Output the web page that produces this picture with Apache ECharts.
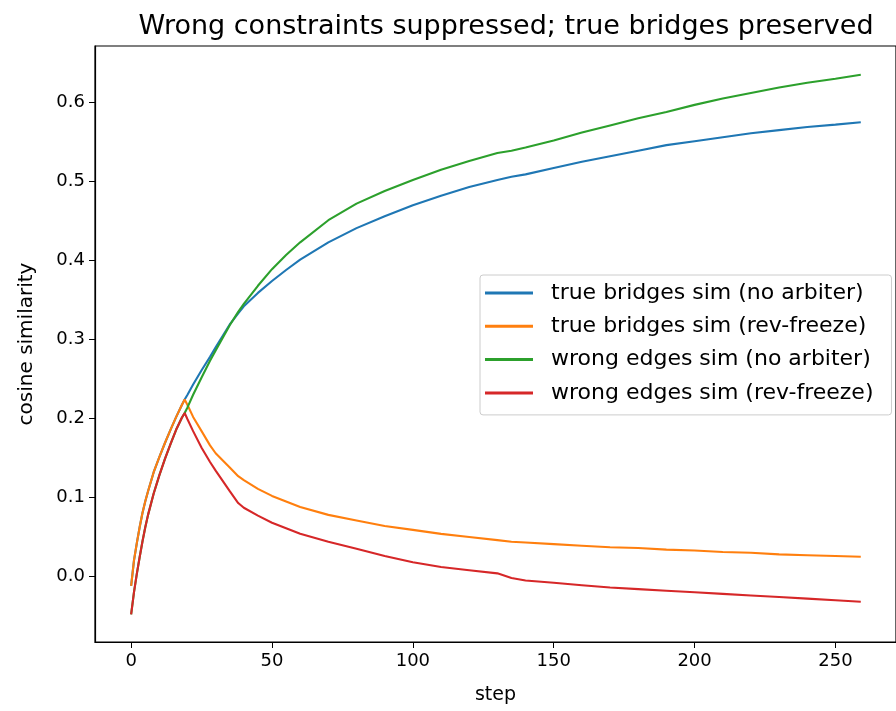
<!DOCTYPE html>
<html>
<head>
<meta charset="utf-8">
<script src="https://cdn.jsdelivr.net/npm/echarts@6/dist/echarts.min.js"></script>
<style>
html,body{margin:0;padding:0;background:#fff;}
#chart{width:896px;height:711px;}
</style>
</head>
<body>
<div id="chart"></div>
<script>
// ---- data ----
const steps = [0,1,2,3,4,5,6,8,10,12,14,16,18,19,20,22,25,28,30,35,38,40,45,50,55,60,70,80,90,100,110,120,130,135,140,150,160,170,180,190,200,210,220,230,240,250,259];

const trueNoArbiter = [-0.012,0.020,0.042,0.062,0.080,0.095,0.108,0.132,0.151,0.169,0.186,0.202,0.217,0.224,0.230,0.243,0.261,0.278,0.290,0.319,0.333,0.342,0.359,0.374,0.388,0.401,0.423,0.441,0.456,0.470,0.482,0.493,0.502,0.506,0.509,0.517,0.525,0.532,0.539,0.546,0.551,0.556,0.561,0.565,0.569,0.572,0.575];

const trueRevFreeze = [-0.012,0.020,0.042,0.062,0.080,0.095,0.108,0.132,0.151,0.169,0.186,0.202,0.217,0.224,0.217,0.202,0.184,0.166,0.156,0.138,0.127,0.122,0.111,0.102,0.095,0.088,0.078,0.071,0.064,0.059,0.054,0.050,0.046,0.044,0.043,0.041,0.039,0.037,0.036,0.034,0.033,0.031,0.030,0.028,0.027,0.026,0.025];

const wrongNoArbiter = [-0.048,-0.020,0.003,0.024,0.044,0.062,0.078,0.105,0.128,0.149,0.168,0.186,0.201,0.207,0.214,0.230,0.252,0.273,0.286,0.318,0.335,0.345,0.368,0.389,0.407,0.423,0.451,0.472,0.488,0.502,0.515,0.526,0.536,0.539,0.543,0.552,0.562,0.571,0.580,0.588,0.597,0.605,0.612,0.619,0.625,0.630,0.635];

const wrongRevFreeze = [-0.048,-0.020,0.003,0.024,0.044,0.062,0.078,0.105,0.128,0.149,0.168,0.186,0.201,0.207,0.199,0.184,0.163,0.145,0.134,0.108,0.093,0.087,0.077,0.068,0.061,0.054,0.044,0.035,0.026,0.018,0.012,0.008,0.004,-0.002,-0.005,-0.008,-0.011,-0.014,-0.016,-0.018,-0.020,-0.022,-0.024,-0.026,-0.028,-0.030,-0.032];

const xTicks = [0,50,100,150,200,250];
const yTicks = [0,0.1,0.2,0.3,0.4,0.5,0.6];

const seriesNames = [
  'true bridges sim (no arbiter)',
  'true bridges sim (rev-freeze)',
  'wrong edges sim (no arbiter)',
  'wrong edges sim (rev-freeze)'
];
const seriesValues = [trueNoArbiter, trueRevFreeze, wrongNoArbiter, wrongRevFreeze];
const colors = ['#1f77b4','#ff7f0e','#2ca02c','#d62728'];
const titleText = 'Wrong constraints suppressed; true bridges preserved';

// ---- chart ----
const FONT = 'DejaVu Sans';
const chart = echarts.init(document.getElementById('chart'), null, {renderer:'canvas'});

const series = seriesNames.map((name, i) => ({
  name: name,
  type: 'line',
  data: steps.map((s, k) => [s, seriesValues[i][k]]),
  symbol: 'none',
  showSymbol: false,
  smooth: false,
  animation: false,
  lineStyle: {color: colors[i], width: 2.1},
  itemStyle: {color: colors[i]},
  z: 2 + i
}));

chart.setOption({
  animation: false,
  backgroundColor: '#fff',
  color: colors,
  textStyle: {fontFamily: FONT},
  title: {
    text: titleText,
    left: 501,
    textAlign: 'center',
    top: 8,
    textStyle: {fontFamily: FONT, fontSize: 27, fontWeight: 'normal', color: '#000'}
  },
  grid: {
    left: 95, top: 46, width: 809, height: 596,
    show: true, borderColor: '#000', borderWidth: 1.2, backgroundColor: 'transparent'
  },
  legend: {
    orient: 'vertical',
    left: 480, top: 275,
    icon: 'rect',
    itemWidth: 48, itemHeight: 3, itemGap: 9.3,
    padding: [6, 18, 10, 5],
    backgroundColor: 'rgba(255,255,255,0.85)',
    borderColor: '#cccccc', borderWidth: 1, borderRadius: 3,
    textStyle: {fontFamily: FONT, fontSize: 22, color: '#000', padding: [0,0,0,13], lineHeight: 24},
    data: seriesNames
  },
  xAxis: {
    type: 'value',
    min: -12.83, max: 271.5,
    name: 'step',
    nameLocation: 'middle',
    nameGap: 44,
    nameTextStyle: {fontFamily: FONT, fontSize: 19, color: '#000'},
    axisLine: {show: true, onZero: false, lineStyle: {color: '#000', width: 1.2}},
    axisTick: {show: true, length: 6, customValues: xTicks, lineStyle: {color: '#000'}},
    axisLabel: {customValues: xTicks, fontFamily: FONT, fontSize: 18, color: '#000', margin: 10},
    splitLine: {show: false}
  },
  yAxis: {
    type: 'value',
    min: -0.0829, max: 0.6715,
    name: 'cosine similarity',
    nameLocation: 'middle',
    nameGap: 58,
    nameRotate: 90,
    nameTextStyle: {fontFamily: FONT, fontSize: 20, color: '#000'},
    axisLine: {show: true, onZero: false, lineStyle: {color: '#000', width: 1.2}},
    axisTick: {show: true, length: 6, customValues: yTicks, lineStyle: {color: '#000'}},
    axisLabel: {customValues: yTicks, fontFamily: FONT, fontSize: 18, color: '#000', margin: 10,
      formatter: v => v.toFixed(1)},
    splitLine: {show: false}
  },
  series: series
});
</script>
</body>
</html>
